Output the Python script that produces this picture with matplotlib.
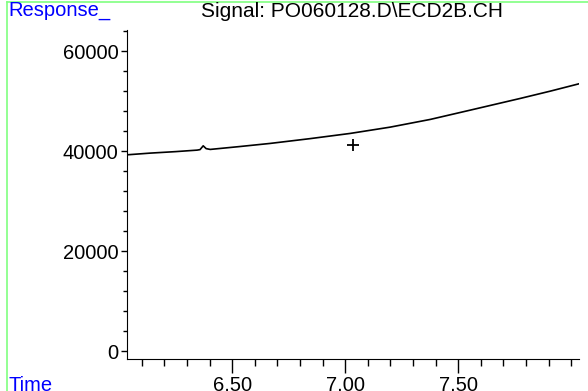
import matplotlib.pyplot as plt
from matplotlib.lines import Line2D
from matplotlib.ticker import MultipleLocator, FixedLocator

plt.rcParams['font.family'] = ['Liberation Sans', 'DejaVu Sans']

# Время удерживания (мин) и отклик детектора
t = [6.035, 6.137, 6.25, 6.345, 6.358, 6.372, 6.385, 6.403, 6.53, 6.668,
     6.845, 7.022, 7.199, 7.376, 7.553, 7.774, 7.907, 8.04]
resp = [39260, 39600, 39900, 40200, 40300, 41060, 40500, 40340, 40900, 41540,
        42500, 43540, 44800, 46340, 48200, 50540, 52000, 53540]

# Отметка "+"
mark_t = [7.035]
mark_y = [41200]

title = "Signal: PO060128.D\\ECD2B.CH"
xticks = [6.5, 7.0, 7.5]
xlabels = ["6.50", "7.00", "7.50"]
yticks = [0, 20000, 40000, 60000]

fig = plt.figure(figsize=(5.88, 3.91), dpi=100)
ax = fig.add_axes([0.216, 0.0818, 0.769, 0.841])

ax.plot(t, resp, color='black', lw=1.2)
ax.plot(mark_t, mark_y, marker='+', color='black', ms=9, mew=1.3, ls='none')

ax.set_xlim(6.035, 8.035)
ax.set_ylim(-1600, 64200)

ax.xaxis.set_major_locator(FixedLocator(xticks))
ax.set_xticklabels(xlabels)
ax.xaxis.set_minor_locator(MultipleLocator(0.1))
ax.yaxis.set_major_locator(FixedLocator(yticks))
ax.yaxis.set_minor_locator(MultipleLocator(4000))

ax.tick_params(axis='x', which='major', length=10, width=1, direction='out', labelsize=14.5, pad=2)
ax.tick_params(axis='x', which='minor', length=5, width=1, direction='out')
ax.tick_params(axis='y', which='major', length=4, width=1, direction='out', labelsize=14.5, pad=2)
ax.tick_params(axis='y', which='minor', length=3, width=1, direction='out')

for s in ['top', 'right']:
    ax.spines[s].set_visible(False)

fig.text(0.599, 0.97, title, ha='center', va='center', fontsize=15)
fig.text(0.014, 0.972, "Response_", ha='left', va='center', fontsize=14.5, color='blue')
fig.text(0.014, 0.015, "Time", ha='left', va='center', fontsize=14.5, color='blue')

# Зелёная рамка
fig.add_artist(Line2D([7/588, 7/588], [0, 1 - 2/391], color='#80ff80', lw=1.2,
                      transform=fig.transFigure))
fig.add_artist(Line2D([7/588, 1], [1 - 2/391, 1 - 2/391], color='#80ff80', lw=1.2,
                      transform=fig.transFigure))

fig.savefig('out.png', dpi=100)
